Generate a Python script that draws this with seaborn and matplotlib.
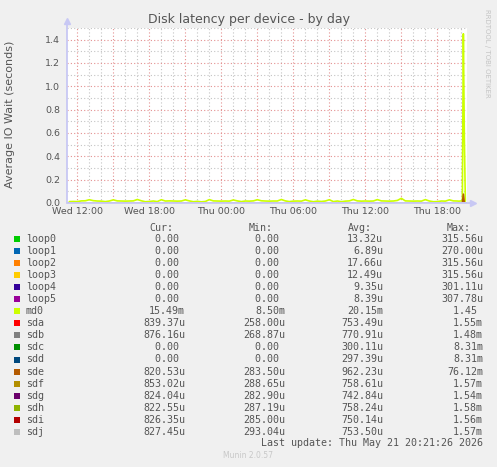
import numpy as np
import pandas as pd
import matplotlib
matplotlib.use("Agg")
import matplotlib.pyplot as plt
from matplotlib.patches import Rectangle
from matplotlib.ticker import MultipleLocator, FuncFormatter
import seaborn as sns

# devices in munin drawing order, with the munin palette
devices = ["loop0", "loop1", "loop2", "loop3", "loop4", "loop5", "md0",
           "sda", "sdb", "sdc", "sdd", "sde", "sdf", "sdg", "sdh", "sdi", "sdj"]
colors = ["#00CC00", "#0066B3", "#FF8000", "#FFCC00", "#330099", "#990099", "#CCFF00",
          "#FF0000", "#808080", "#008F00", "#00487D", "#B35A00", "#B38F00", "#6B006B",
          "#8FB300", "#B30000", "#BEBEBE"]

# legend table (as printed under the graph)
cur = ["0.00 ", "0.00 ", "0.00 ", "0.00 ", "0.00 ", "0.00 ", "15.49m", "839.37u", "876.16u",
       "0.00 ", "0.00 ", "820.53u", "853.02u", "824.04u", "822.55u", "826.35u", "827.45u"]
mins = ["0.00 ", "0.00 ", "0.00 ", "0.00 ", "0.00 ", "0.00 ", "8.50m", "258.00u", "268.87u",
        "0.00 ", "0.00 ", "283.50u", "288.65u", "282.90u", "287.19u", "285.00u", "293.04u"]
avgs = ["13.32u", "6.89u", "17.66u", "12.49u", "9.35u", "8.39u", "20.15m", "753.49u", "770.91u",
        "300.11u", "297.39u", "962.23u", "758.61u", "742.84u", "758.24u", "750.14u", "753.50u"]
maxs = ["315.56u", "270.00u", "315.56u", "315.56u", "301.11u", "307.78u", "1.45 ", "1.55m", "1.48m",
        "8.31m", "8.31m", "76.12m", "1.57m", "1.54m", "1.58m", "1.56m", "1.57m"]

# x tick labels (hours since Wed 00:00)
tick_hours = [12, 18, 24, 30, 36, 42]
tick_labels = ["Wed 12:00", "Wed 18:00", "Thu 00:00", "Thu 06:00", "Thu 12:00", "Thu 18:00"]

# md0: every 20 min from Wed 11:20, then every 5 min around the spike (minutes since Wed 00:00)
md0_minutes = np.r_[np.arange(680, 2621, 20), np.arange(2625, 2661, 5)]
md0_values = [
    0.012, 0.013, 0.012, 0.018, 0.019, 0.028,
    0.020, 0.017, 0.016, 0.012, 0.017, 0.027,
    0.018, 0.017, 0.016, 0.017, 0.018, 0.030,
    0.019, 0.011, 0.013, 0.017, 0.012, 0.028,
    0.017, 0.018, 0.017, 0.016, 0.017, 0.027,
    0.018, 0.011, 0.014, 0.010, 0.013, 0.029,
    0.018, 0.017, 0.016, 0.017, 0.016, 0.026,
    0.018, 0.012, 0.017, 0.016, 0.018, 0.028,
    0.019, 0.017, 0.016, 0.017, 0.017, 0.030,
    0.018, 0.012, 0.016, 0.017, 0.016, 0.027,
    0.017, 0.011, 0.016, 0.013, 0.017, 0.028,
    0.012, 0.017, 0.011, 0.016, 0.018, 0.030,
    0.018, 0.016, 0.017, 0.016, 0.017, 0.029,
    0.018, 0.017, 0.016, 0.017, 0.022, 0.040,
    0.018, 0.017, 0.016, 0.017, 0.016, 0.029,
    0.017, 0.011, 0.012, 0.017, 0.016, 0.027,
    0.018, 0.017,
    0.016, 0.016, 0.017, 0.018, 0.018, 1.45, 0.55, 0.0155,
]

# the other devices stay close to zero; coarse samples plus the spike window
small_minutes = np.r_[np.arange(680, 2601, 240), [2645, 2650, 2655, 2660]]
small_values = {
    "loop0": [0, 0.00002, 0, 0.0003, 0, 0.00001, 0, 0, 0.00002, 0, 0, 0, 0],
    "loop1": [0, 0, 0.00027, 0, 0, 0, 0.00001, 0, 0, 0, 0, 0, 0],
    "loop2": [0.00003, 0, 0.0003, 0, 0.00002, 0, 0, 0.0003, 0, 0, 0, 0, 0],
    "loop3": [0, 0.0003, 0, 0, 0.00001, 0, 0.0003, 0, 0, 0, 0, 0, 0],
    "loop4": [0, 0, 0, 0.0003, 0, 0, 0, 0, 0.00001, 0, 0, 0, 0],
    "loop5": [0, 0, 0.0003, 0, 0, 0, 0.00002, 0, 0, 0, 0, 0, 0],
    "sda": [0.0007, 0.0008, 0.0007, 0.0009, 0.0007, 0.0008, 0.0007, 0.0008, 0.0007, 0.0009, 0.00155, 0.0008, 0.00084],
    "sdb": [0.0008, 0.0007, 0.0008, 0.0008, 0.0007, 0.0009, 0.0008, 0.0007, 0.0008, 0.0009, 0.00148, 0.0008, 0.00088],
    "sdc": [0, 0, 0, 0.0003, 0.0008, 0, 0, 0, 0, 0, 0, 0, 0],
    "sdd": [0, 0, 0, 0.0003, 0.0008, 0, 0, 0, 0, 0, 0, 0, 0],
    "sde": [0.0009, 0.0008, 0.0009, 0.0008, 0.0009, 0.0008, 0.0009, 0.0008, 0.0009, 0.0010, 0.0761, 0.0012, 0.00082],
    "sdf": [0.0007, 0.0008, 0.0007, 0.0008, 0.0007, 0.0008, 0.0007, 0.0008, 0.0007, 0.0009, 0.00157, 0.0008, 0.00085],
    "sdg": [0.0007, 0.0007, 0.0008, 0.0007, 0.0007, 0.0008, 0.0007, 0.0007, 0.0008, 0.0009, 0.00154, 0.0008, 0.00082],
    "sdh": [0.0008, 0.0007, 0.0007, 0.0008, 0.0007, 0.0008, 0.0008, 0.0007, 0.0007, 0.0009, 0.00158, 0.0008, 0.00082],
    "sdi": [0.0007, 0.0008, 0.0007, 0.0007, 0.0008, 0.0007, 0.0007, 0.0008, 0.0007, 0.0009, 0.00156, 0.0008, 0.00083],
    "sdj": [0.0008, 0.0007, 0.0007, 0.0008, 0.0008, 0.0007, 0.0008, 0.0007, 0.0008, 0.0009, 0.00157, 0.0008, 0.00083],
}

frames = [pd.DataFrame({"hour": md0_minutes / 60, "wait": md0_values, "device": "md0"})]
for name, vals in small_values.items():
    frames.append(pd.DataFrame({"hour": small_minutes / 60, "wait": vals, "device": name}))
df = pd.concat(frames, ignore_index=True)

sns.set_style("white")
text_col = "#555555"
axis_col = "#C8C8F4"

W, H = 497, 467
fig = plt.figure(figsize=(W / 100, H / 100), dpi=100, facecolor="#F0F0F0")
ax = fig.add_axes([67 / W, (H - 203) / H, 400 / W, 175 / H])
ax.set_facecolor("white")

sns.lineplot(data=df, x="hour", y="wait", hue="device", hue_order=devices,
             palette=dict(zip(devices, colors)), estimator=None, sort=True,
             legend=False, linewidth=1.2, ax=ax)

ax.set_xlim(11.14, 44.47)
ax.set_ylim(0, 1.5)
ax.set_xlabel("")
ax.set_ylabel("")

# grid: red dotted majors, gray dotted minors
ax.xaxis.set_major_locator(MultipleLocator(3))
ax.xaxis.set_minor_locator(MultipleLocator(1))
ax.yaxis.set_major_locator(MultipleLocator(0.2))
ax.yaxis.set_minor_locator(MultipleLocator(0.1))
lab = dict(zip(tick_hours, tick_labels))
ax.xaxis.set_major_formatter(FuncFormatter(lambda v, p: lab.get(int(round(v)), "")))
ax.yaxis.set_major_formatter(FuncFormatter(lambda v, p: f"{v:.1f}"))
ax.grid(which="minor", color="#C4C4C4", linestyle=(0, (1, 2)), linewidth=0.8)
ax.grid(which="major", color="#E49090", linestyle=(0, (1, 2)), linewidth=0.8)
ax.set_axisbelow(True)
ax.tick_params(which="both", length=0, labelsize=6.8, labelcolor=text_col)
ax.tick_params(axis="y", pad=5)
ax.tick_params(axis="x", pad=3)
for s in ax.spines.values():
    s.set_visible(False)

# axes with arrow heads, as rrdtool draws them
ax.plot([0, 0], [0, 1.035], color=axis_col, lw=1.3, transform=ax.transAxes, clip_on=False, zorder=5)
ax.plot([0, 1.012], [0, 0], color=axis_col, lw=1.3, transform=ax.transAxes, clip_on=False, zorder=5)
ax.plot([0], [1.04], marker="^", ms=4.5, color=axis_col, transform=ax.transAxes, clip_on=False, zorder=5)
ax.plot([1.014], [0], marker=">", ms=4.5, color=axis_col, transform=ax.transAxes, clip_on=False, zorder=5)

fig.text(0.5, 1 - 20 / H, "Disk latency per device - by day", ha="center", va="center",
         fontsize=9, color=text_col)
fig.text(10 / W, 1 - 114 / H, "Average IO Wait (seconds)", rotation=90, ha="center",
         va="center", fontsize=8, color=text_col)
fig.text(487 / W, 1 - 53 / H, "RRDTOOL / TOBI OETIKER", rotation=270, ha="center",
         va="center", fontsize=5, color="#C4C4C4")

# legend table
mono = dict(family="DejaVu Sans Mono", fontsize=7.2, color=text_col)
header_y = 228.3
for x, txt in zip([149, 249, 348, 447], ["Cur:", "Min:", "Avg:", "Max:"]):
    fig.text(x / W, 1 - header_y / H, txt, ha="left", va="center", **mono)
for i, name in enumerate(devices):
    y = 239.3 + 12.02 * i
    fig.patches.append(Rectangle(((14) / W, 1 - (y + 3) / H), 6 / W, 6 / H,
                                 transform=fig.transFigure, facecolor=colors[i],
                                 edgecolor="none"))
    fig.text(26 / W, 1 - y / H, name, ha="left", va="center", **mono)
    for x, col in zip([185, 285, 383, 483], [cur, mins, avgs, maxs]):
        fig.text(x / W, 1 - y / H, col[i], ha="right", va="center", **mono)
fig.text(483 / W, 1 - 443.5 / H, "Last update: Thu May 21 20:21:26 2026", ha="right",
         va="center", **mono)
fig.text(248 / W, 1 - 456 / H, "Munin 2.0.57", ha="center", va="center", fontsize=5.5,
         color="#C8C8C8")

fig.savefig("out.png", dpi=100, facecolor=fig.get_facecolor())
